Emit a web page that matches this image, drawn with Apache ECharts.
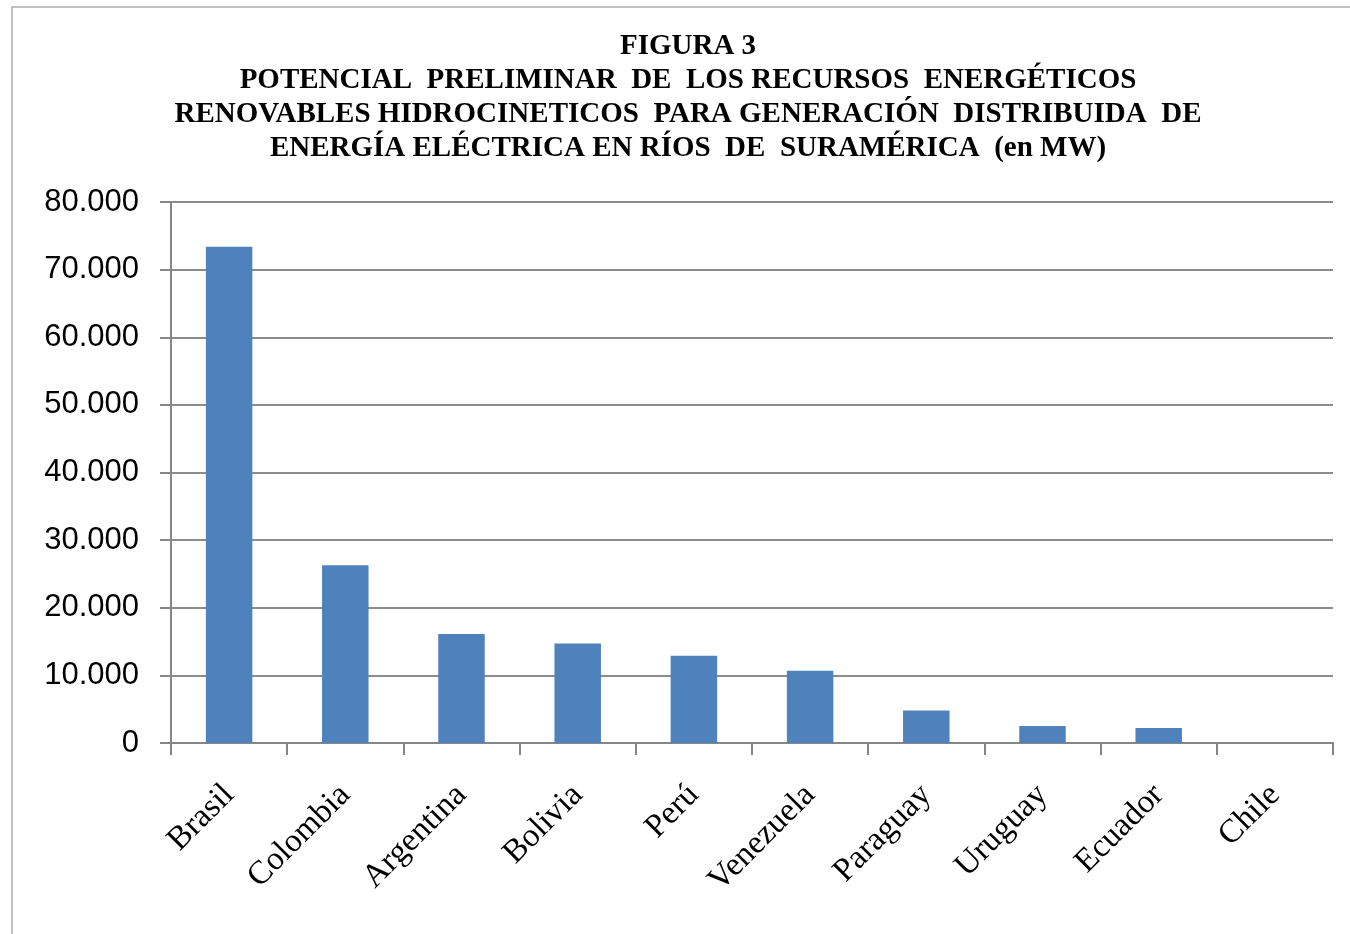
<!DOCTYPE html>
<html><head><meta charset="utf-8">
<script src="https://cdn.jsdelivr.net/npm/echarts@6/dist/echarts.min.js"></script>
<style>html,body{margin:0;padding:0;background:#fff}#c{width:1350px;height:934px}</style>
</head><body><div id="c"></div>
<script>
const categories = ['Brasil','Colombia','Argentina','Bolivia','Perú','Venezuela','Paraguay','Uruguay','Ecuador','Chile'];
const values = [73400, 26300, 16100, 14700, 12900, 10700, 4800, 2500, 2200, 0];
const titleLines = ['FIGURA 3','POTENCIAL  PRELIMINAR  DE  LOS RECURSOS  ENERGÉTICOS','RENOVABLES HIDROCINETICOS  PARA GENERACIÓN  DISTRIBUIDA  DE','ENERGÍA ELÉCTRICA EN RÍOS  DE  SURAMÉRICA  (en MW)'];

const chart = echarts.init(document.getElementById('c'));
chart.setOption({
  animation: false,
  graphic: [
    {type:'rect', shape:{x:12, y:7, width:1400, height:1000}, style:{fill:'none', stroke:'#c0c0c0', lineWidth:2}},
    {type:'text', x:688, y:30, style:{text: titleLines.join('\n'), align:'center', verticalAlign:'top',
      fontFamily:'Liberation Serif', fontWeight:'bold', fontSize:29, lineHeight:34, fill:'#000'}}
  ],
  grid: {left:171, right:17, top:202, bottom:191},
  xAxis: {
    type:'category', data: categories,
    axisLine:{lineStyle:{color:'#868686', width:2}},
    axisTick:{show:true, length:12, lineStyle:{color:'#868686', width:2}},
    axisLabel:{rotate:45, fontFamily:'Liberation Serif', fontSize:33, color:'#000', margin:47, interval:0}
  },
  yAxis: {
    type:'value', min:0, max:80000, interval:10000,
    axisLine:{show:true, lineStyle:{color:'#868686', width:2}},
    axisTick:{show:true, length:11, lineStyle:{color:'#868686', width:2}},
    splitLine:{lineStyle:{color:'#8c8c8c', width:2}},
    axisLabel:{fontFamily:'Liberation Sans', fontSize:31, color:'#000', margin:32,
      formatter: v => v === 0 ? '0' : (v/1000).toFixed(0) + '.000'}
  },
  series: [{type:'bar', data: values, barWidth:'40%', itemStyle:{color:'#4f81bd'}}]
});
</script></body></html>
